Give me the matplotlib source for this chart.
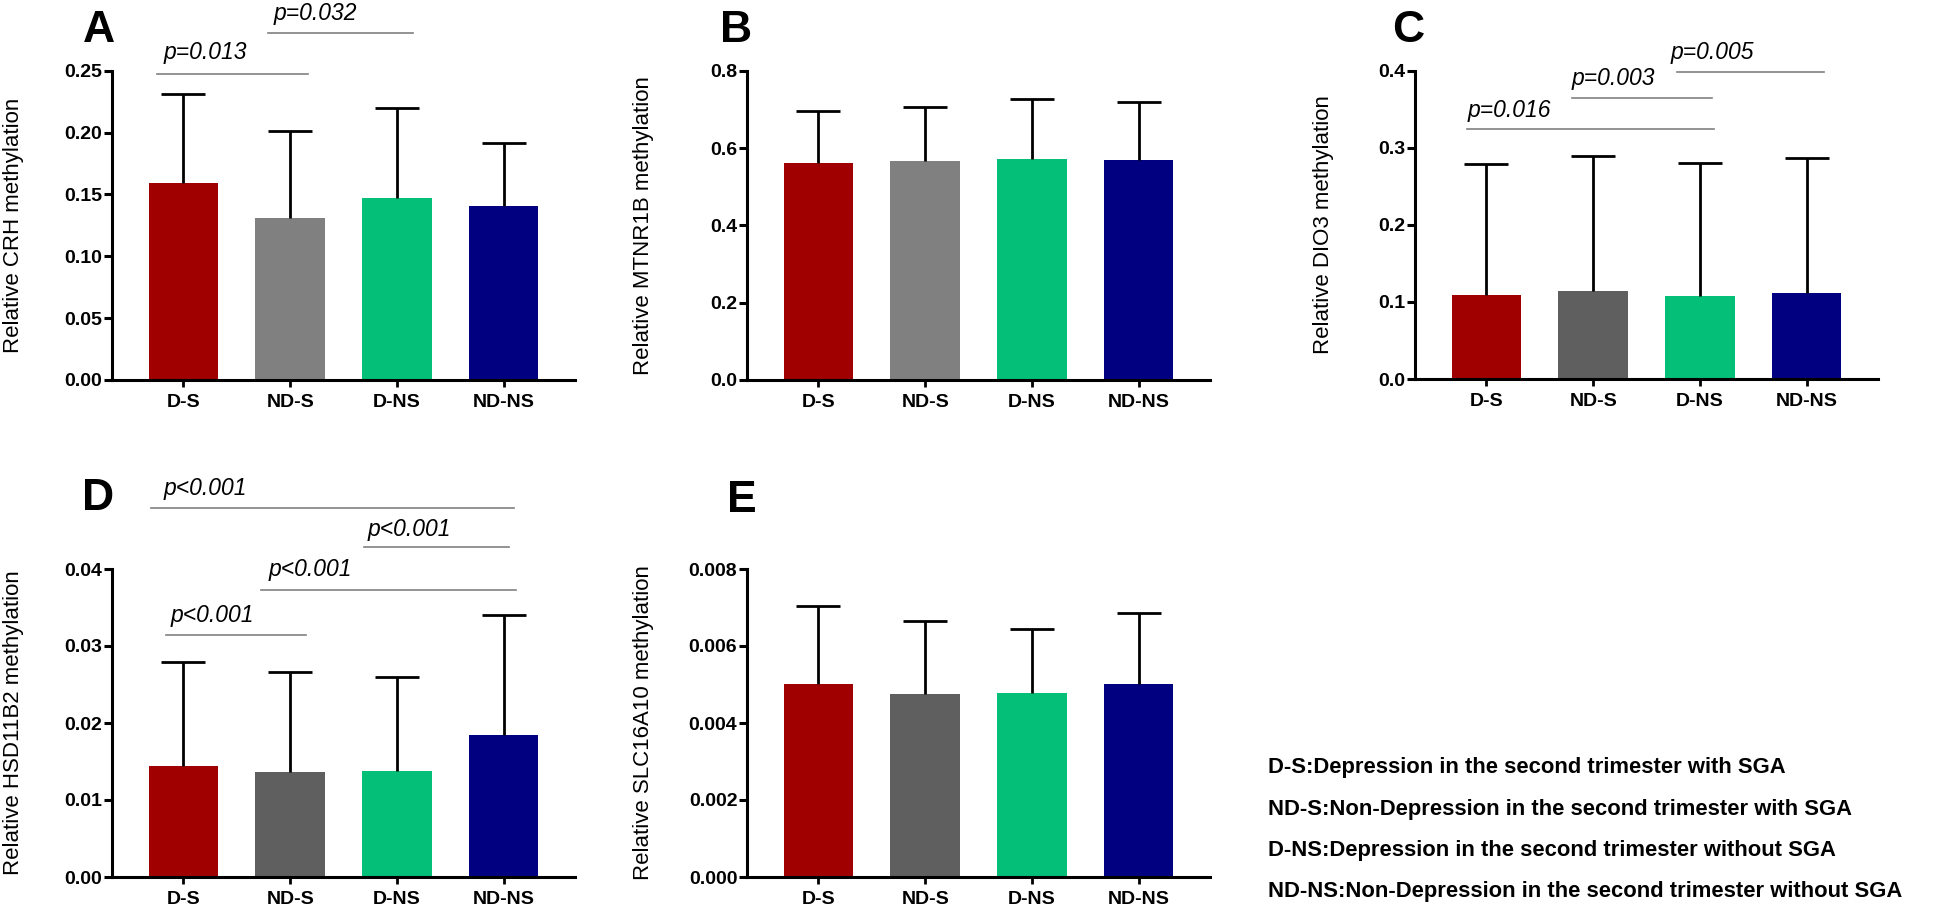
import matplotlib
matplotlib.use("Agg")
import matplotlib.pyplot as plt
import numpy as np

plt.rcParams['font.family'] = ['Liberation Sans', 'DejaVu Sans']

groups = ["D-S", "ND-S", "D-NS", "ND-NS"]

# médias e topo das barras de erro
crh_mean = [0.1595, 0.131, 0.147, 0.141]
crh_upper = [0.231, 0.2015, 0.2196, 0.1918]
mtnr_mean = [0.5624, 0.5676, 0.572, 0.568]
mtnr_upper = [0.6955, 0.706, 0.727, 0.72]
dio_mean = [0.1094, 0.1137, 0.108, 0.1116]
dio_upper = [0.279, 0.289, 0.280, 0.287]
hsd_mean = [0.01439, 0.01365, 0.01378, 0.0185]
hsd_upper = [0.0279, 0.0266, 0.0260, 0.0340]
slc_mean = [0.005025, 0.004765, 0.00477, 0.00502]
slc_upper = [0.00704, 0.00665, 0.00645, 0.00685]

# comparações: (x inicio, x fim, y linha, texto, x texto, y texto)
crh_sig = [(-0.25, 1.17, 0.2473, "p=0.013", -0.19, 0.2651),
           (0.79, 2.15, 0.2805, "p=0.032", 0.84, 0.2966)]
dio_sig = [(-0.18, 2.13, 0.3246, "p=0.016", -0.18, 0.349),
           (0.80, 2.11, 0.3650, "p=0.003", 0.80, 0.390),
           (1.79, 3.16, 0.398, "p=0.005", 1.73, 0.424)]
hsd_sig = [(-0.30, 3.10, 0.0479, "p<0.001", -0.19, 0.0505),
           (1.69, 3.05, 0.0428, "p<0.001", 1.73, 0.0451),
           (0.73, 3.12, 0.0373, "p<0.001", 0.80, 0.0399),
           (-0.16, 1.15, 0.0314, "p<0.001", -0.12, 0.0340)]

legend_lines = ["D-S:Depression in the second trimester with SGA",
                "ND-S:Non-Depression in the second trimester with SGA",
                "D-NS:Depression in the second trimester without SGA",
                "ND-NS:Non-Depression in the second trimester without SGA"]

colors_light = ["#A00000", "#808080", "#03BF78", "#000080"]
colors_dark = ["#A00000", "#5F5F5F", "#03BF78", "#000080"]

W, H = 1944, 914
fig = plt.figure(figsize=(W / 100, H / 100), dpi=100)


def make_axes(left_px, top_px, bottom_px):
  return fig.add_axes([left_px / W, 1 - bottom_px / H, 463 / W, (bottom_px - top_px) / H])


def bar_panel(ax, means, upper, colors, yticks, fmt, ylabel, labelx, sig=()):
  x = np.arange(len(groups))
  ax.bar(x, means, width=0.655, color=colors, zorder=2)
  # barra de erro só para cima, sem traço na base
  ax.vlines(x, means, upper, color="black", lw=2, zorder=3)
  ax.plot(x, upper, ls="none", marker="_", markersize=31, mew=2, color="black", zorder=3)
  ax.set_xlim(-0.67, 3.67)
  ax.set_ylim(0, yticks[-1])
  ax.set_yticks(yticks)
  ax.set_yticklabels([fmt.format(v) for v in yticks])
  ax.set_xticks(x)
  ax.set_xticklabels(groups)
  for side in ["top", "right"]:
    ax.spines[side].set_visible(False)
  for side in ["left", "bottom"]:
    ax.spines[side].set_linewidth(2.2)
  ax.tick_params(axis="y", length=6, width=2.2, pad=1, labelsize=14)
  ax.tick_params(axis="x", length=5, width=2, pad=5, labelsize=14)
  for lab in ax.get_xticklabels() + ax.get_yticklabels():
    lab.set_fontweight("bold")
  ax.set_ylabel(ylabel, fontsize=16)
  ax.yaxis.set_label_coords(labelx, 0.5)
  for x0, x1, yl, txt, xt, yt in sig:
    ax.plot([x0, x1], [yl, yl], color="#808080", lw=1.2, clip_on=False)
    ax.text(xt, yt, txt, fontsize=16.5, style="italic", ha="left", va="center", clip_on=False)


axA = make_axes(112, 70.7, 380)
bar_panel(axA, crh_mean, crh_upper, colors_light, [0, 0.05, 0.10, 0.15, 0.20, 0.25], "{:.2f}",
          "Relative CRH methylation", -0.19, crh_sig)
axB = make_axes(747, 70.7, 380)
bar_panel(axB, mtnr_mean, mtnr_upper, colors_light, [0, 0.2, 0.4, 0.6, 0.8], "{:.1f}",
          "Relative MTNR1B methylation", -0.20)
axC = make_axes(1415, 70.7, 379)
bar_panel(axC, dio_mean, dio_upper, colors_dark, [0, 0.1, 0.2, 0.3, 0.4], "{:.1f}",
          "Relative DIO3 methylation", -0.175, dio_sig)
axD = make_axes(112, 569, 877)
bar_panel(axD, hsd_mean, hsd_upper, colors_dark, [0, 0.01, 0.02, 0.03, 0.04], "{:.2f}",
          "Relative HSD11B2 methylation", -0.19, hsd_sig)
axE = make_axes(747, 569, 877)
bar_panel(axE, slc_mean, slc_upper, colors_dark, [0, 0.002, 0.004, 0.006, 0.008], "{:.3f}",
          "Relative SLC16A10 methylation", -0.20)

# letras dos painéis
for letter, xp, yp in [("A", 83, 10), ("B", 720, 10), ("C", 1392, 10), ("D", 82, 478), ("E", 727, 480)]:
  fig.text(xp / W, 1 - yp / H, letter, fontsize=32, fontweight="bold", ha="left", va="top")

# legenda em texto
for i, line in enumerate(legend_lines):
  fig.text(1268 / W, 1 - (768 + 41.3 * i) / H, line, fontsize=15.8, fontweight="bold",
           ha="left", va="center")

fig.savefig("out.png", dpi=100)
